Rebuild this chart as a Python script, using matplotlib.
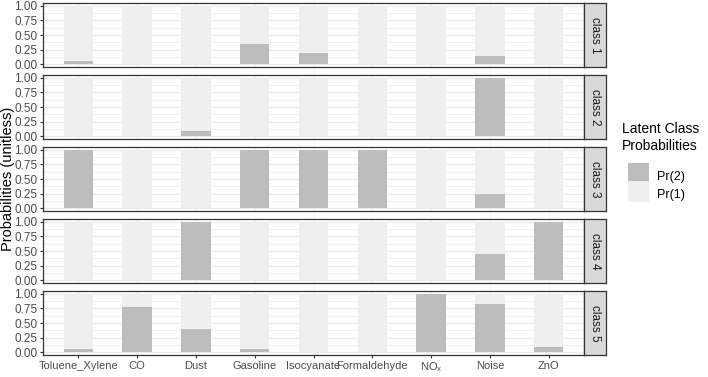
import numpy as np
import matplotlib.pyplot as plt
from matplotlib.patches import Patch, Rectangle
from matplotlib.legend_handler import HandlerPatch

plt.rcParams['font.family'] = ['Liberation Sans', 'DejaVu Sans']
plt.rcParams['mathtext.fontset'] = 'custom'
plt.rcParams['mathtext.rm'] = 'Liberation Sans'
plt.rcParams['mathtext.it'] = 'Liberation Sans'

exposures = ['Toluene_Xylene', 'CO', 'Dust', 'Gasoline', 'Isocyanate',
             'Formaldehyde', 'NO$_\\mathregular{x}$', 'Noise', 'ZnO']
classes = ['class 1', 'class 2', 'class 3', 'class 4', 'class 5']

# Pr(2) per class; Pr(1) = 1 - Pr(2)
pr2_class1 = [0.06, 0.00, 0.00, 0.34, 0.19, 0.00, 0.01, 0.14, 0.00]
pr2_class2 = [0.00, 0.00, 0.08, 0.00, 0.01, 0.00, 0.00, 1.00, 0.00]
pr2_class3 = [1.00, 0.00, 0.00, 1.00, 1.00, 1.00, 0.00, 0.25, 0.00]
pr2_class4 = [0.00, 0.00, 1.00, 0.00, 0.00, 0.00, 0.00, 0.45, 1.00]
pr2_class5 = [0.06, 0.77, 0.39, 0.06, 0.00, 0.01, 1.00, 0.83, 0.09]
pr2_all = [pr2_class1, pr2_class2, pr2_class3, pr2_class4, pr2_class5]

col_pr2 = '#BDBDBD'
col_pr1 = '#EFEFEF'

W, H = 708, 377
fig = plt.figure(figsize=(W / 100, H / 100), dpi=100)

left, right = 43, 584
strip_w = 22
top0, ph, pitch = 3, 64, 72
x = np.arange(len(exposures))

for i, (cls, pr2) in enumerate(zip(classes, pr2_all)):
    t = top0 + i * pitch
    ax = fig.add_axes([left / W, 1 - (t + ph) / H, (right - left) / W, ph / H])
    pr2 = np.array(pr2)
    ax.bar(x, pr2, width=0.5, color=col_pr2, zorder=2)
    ax.bar(x, 1 - pr2, bottom=pr2, width=0.5, color=col_pr1, zorder=2)
    ax.set_xlim(-0.6, len(exposures) - 0.4)
    ax.set_ylim(-0.05, 1.05)
    ax.set_yticks([0, 0.25, 0.5, 0.75, 1.0])
    ax.set_yticklabels(['0.00', '0.25', '0.50', '0.75', '1.00'])
    ax.set_yticks([0.125, 0.375, 0.625, 0.875], minor=True)
    ax.set_xticks(x)
    ax.grid(True, which='major', color='#EBEBEB', lw=0.9, zorder=0)
    ax.grid(True, which='minor', axis='y', color='#EBEBEB', lw=0.5, zorder=0)
    ax.tick_params(which='minor', length=0)
    ax.tick_params(which='major', length=2.5, width=0.8, color='#333333',
                   labelsize=8.5, labelcolor='#4D4D4D', pad=1.5)
    for s in ax.spines.values():
        s.set_color('#333333')
        s.set_linewidth(0.9)
    if i < len(classes) - 1:
        ax.tick_params(axis='x', labelbottom=False, length=0)
    else:
        ax.set_xticklabels(exposures)
        ax.tick_params(axis='x', labelsize=8)
    # strip
    sax = fig.add_axes([right / W, 1 - (t + ph) / H, strip_w / W, ph / H])
    sax.set_facecolor('#D9D9D9')
    sax.set_xticks([])
    sax.set_yticks([])
    for s in sax.spines.values():
        s.set_color('#333333')
        s.set_linewidth(0.9)
    sax.text(0.5, 0.5, cls, rotation=-90, ha='center', va='center',
             fontsize=8.5, color='#1A1A1A', transform=sax.transAxes)

fig.text(8 / W, 1 - 179 / H, 'Probabilities (unitless)', rotation=90,
         ha='center', va='center', fontsize=10.5)


# legend keys filling the whole row, like ggplot
def full_key(legend, orig_handle, xdescent, ydescent, width, height, fontsize):
    return Rectangle((-xdescent, -ydescent + 1), width, height + ydescent - 2)


fig.text(622 / W, 1 - 122 / H, 'Latent Class\nProbabilities', ha='left',
         va='top', fontsize=10, linespacing=1.3)
handles = [Patch(facecolor=col_pr2, edgecolor='none', label='Pr(2)'),
           Patch(facecolor=col_pr1, edgecolor='none', label='Pr(1)')]
fig.legend(handles=handles, loc='upper left',
           bbox_to_anchor=(628 / W, 1 - 167 / H),
           frameon=False, fontsize=9,
           handlelength=1.7, handleheight=1.85, handletextpad=0.65,
           labelspacing=0.0, borderpad=0.0, borderaxespad=0.0,
           handler_map={Patch: HandlerPatch(patch_func=full_key)})

fig.savefig('out.png', dpi=100)
